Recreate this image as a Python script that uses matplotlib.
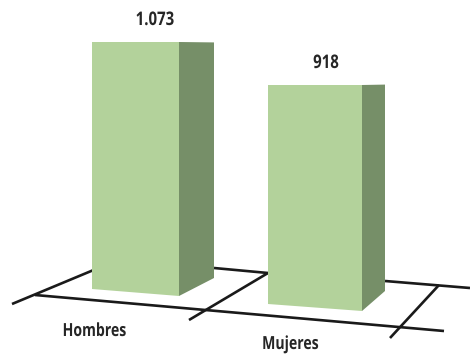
# -*- coding: utf-8 -*-

import matplotlib
matplotlib.use('Agg')
from matplotlib import pyplot as plt
from matplotlib import patheffects
from matplotlib.patches import Polygon
from matplotlib.transforms import Affine2D

categories = ['Hombres', 'Mujeres']
values = [1073, 918]
value_labels = ['1.073', '918']

FRONT = '#b3d29b'
SIDE = '#768f68'
LINE = '#1a1a1a'
TEXT = '#262626'
FONT = ['Open Sans', 'DejaVu Sans']

# pixel placement of each fake 3d box
bar_left = [92, 268]
bar_right = [179, 362]
side_right = [214, 385]
bottom_left = [289, 304]
bottom_right = [296, 311]
side_bottom = [278, 291]
label_xy = [(94, 331), (290, 344)]
value_x = [155, 326]

# value scale: 1073 sits at pixel 42, 918 at pixel 85
px_per_value = (85 - 42) / (1073 - 918)


def to_val(py):
    return 1073 - (py - 42) / px_per_value


class Narrow(patheffects.AbstractPathEffect):
    # squeeze the glyphs sideways, the original font is a condensed one
    def __init__(self, sx):
        super().__init__()
        self.sx = sx

    def draw_path(self, renderer, gc, tpath, affine, rgbFace=None):
        ext = tpath.get_extents()
        cx = (ext.x0 + ext.x1) / 2
        squeeze = Affine2D().translate(-cx, 0).scale(self.sx, 1).translate(cx, 0)
        renderer.draw_path(gc, tpath, squeeze + affine, rgbFace)


fig = plt.figure(figsize=(4.7, 3.55), dpi=100)
ax = fig.add_axes([0, 0, 1, 1])
ax.set_xlim(0, 470)
ax.set_ylim(to_val(355), to_val(0))
ax.axis('off')

# floor grid
floor = [
    [(12, 304), (96, 269)],
    [(35, 295), (444, 331)],
    [(214, 268), (268, 273)],
    [(385, 281), (470, 288)],
    [(189, 320), (268, 273)],
    [(390, 338), (439, 285)],
]
for seg in floor:
    ax.plot([seg[0][0], seg[1][0]], [to_val(seg[0][1]), to_val(seg[1][1])],
            color=LINE, lw=1.9, solid_capstyle='butt', zorder=1)

for i, v in enumerate(values):
    front = [(bar_left[i], v), (bar_right[i], v),
             (bar_right[i], to_val(bottom_right[i])), (bar_left[i], to_val(bottom_left[i]))]
    side = [(bar_right[i], v), (side_right[i], v - 1.5 if i == 0 else v + 1.5),
            (side_right[i], to_val(side_bottom[i])), (bar_right[i], to_val(bottom_right[i]))]
    ax.add_patch(Polygon(front, closed=True, facecolor=FRONT, edgecolor='none', zorder=2))
    ax.add_patch(Polygon(side, closed=True, facecolor=SIDE, edgecolor='none', zorder=2))
    ax.text(value_x[i], v + 22 / px_per_value, value_labels[i], family=FONT, fontsize=13.5,
            fontweight='bold', color=TEXT, ha='center', va='center',
            path_effects=[Narrow(0.8)])
    ax.text(label_xy[i][0], to_val(label_xy[i][1]), categories[i], family=FONT, fontsize=13,
            fontweight='bold', color=TEXT, ha='center', va='center',
            path_effects=[Narrow(0.78)])

fig.savefig('out.png', dpi=100)
